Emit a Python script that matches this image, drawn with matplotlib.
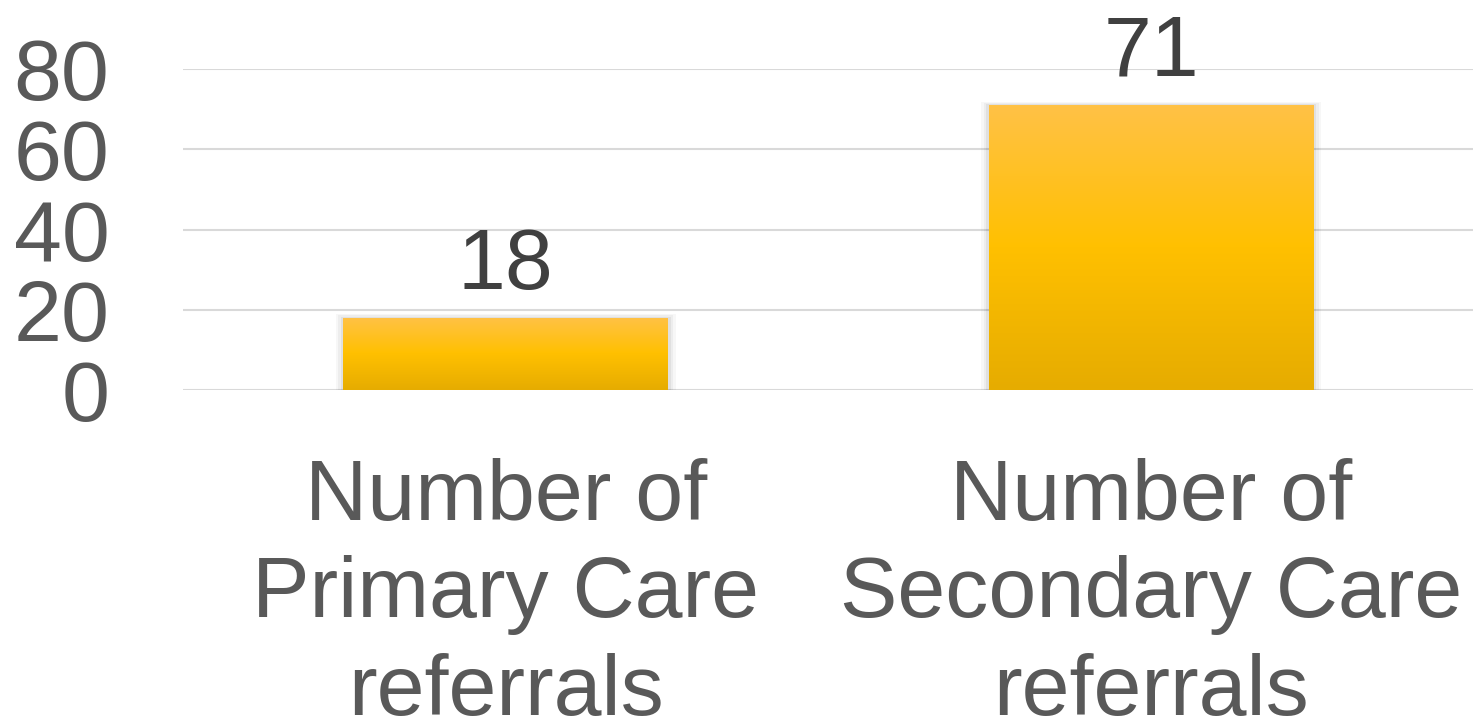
import numpy as np
import matplotlib.pyplot as plt
from matplotlib.colors import LinearSegmentedColormap

categories = ['Number of\nPrimary Care\nreferrals', 'Number of\nSecondary Care\nreferrals']
values = [18, 71]
yticks = [0, 20, 40, 60, 80]

text_color = '#595959'
plt.rcParams['font.family'] = ['Liberation Sans', 'DejaVu Sans']

fig = plt.figure(figsize=(14.73, 7.21), dpi=100)
ax = fig.add_axes([183 / 1473, 1 - 390 / 721, 1291 / 1473, 321 / 721])

x = np.arange(len(values))
bars = ax.bar(x, values, width=0.503, color='#FFC000', zorder=3)

# vertical gradient on each bar
cmap = LinearSegmentedColormap.from_list('gold', ['#E6AC00', '#FFC000', '#FFC246'])
grad = np.linspace(0, 1, 256).reshape(-1, 1)
for b in bars:
    x0, w, h = b.get_x(), b.get_width(), b.get_height()
    # soft shadow
    for k, a in enumerate([0.05, 0.04, 0.03]):
        ax.add_patch(plt.Rectangle((x0 - 0.004 * (k + 1), -0.3 * (k + 1)), w + 0.008 * (k + 1), h + 0.6 * (k + 1),
                                   color='black', alpha=a, lw=0, zorder=2))
    im = ax.imshow(grad, extent=[x0, x0 + w, 0, h], origin='lower', cmap=cmap,
                   aspect='auto', zorder=4)
    im.set_clip_path(b)
    ax.annotate(str(h), (x0 + w / 2, h), xytext=(0, 21), textcoords='offset points',
                ha='center', va='baseline', fontsize=62, color='#404040', annotation_clip=False)

ax.set_xlim(-0.5, 1.5)
ax.set_ylim(0, 80)
ax.set_yticks(yticks)
ax.set_yticklabels([str(v) for v in yticks])
ax.set_xticks(x)
ax.set_xticklabels(categories, linespacing=1.28)
ax.tick_params(axis='y', length=0, pad=53, labelsize=62, labelcolor=text_color)
ax.tick_params(axis='x', length=0, pad=49, labelsize=62, labelcolor=text_color)
ax.grid(axis='y', color='#d9d9d9', linewidth=1.5, zorder=0)
for s in ax.spines.values():
    s.set_visible(False)

fig.savefig('out.png', dpi=100)
